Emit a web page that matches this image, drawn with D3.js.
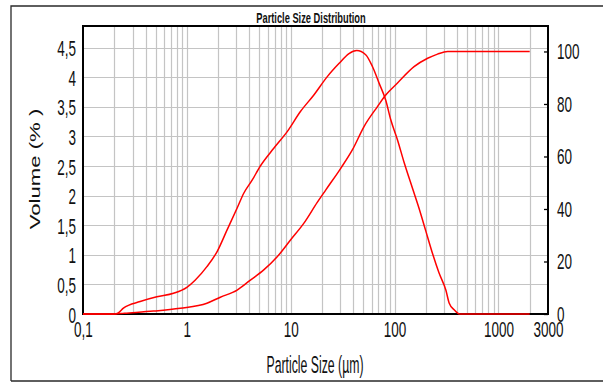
<!DOCTYPE html>
<html>
<head>
<meta charset="utf-8">
<script src="https://cdn.jsdelivr.net/npm/d3@7"></script>
<style>
    body { margin: 0; background: #fff; }
    svg { display: block; }
</style>
</head>
<body>
<div id="chart"></div>
<script>
// particle size (µm) and volume density (%)
const density_sizes = [0.1, 0.2, 0.219, 0.245, 0.355, 0.514, 0.744, 1.0, 1.2, 1.56, 1.95, 2.44, 3.05, 3.53, 4.25, 5.1, 6.87, 9.25, 12.4, 16.7, 22.5, 29.1, 36.4, 43.2, 52.7, 61.2, 70.9, 82.2, 91.9, 106.7, 124, 149, 171, 200, 234, 267, 312, 336, 375, 420, 2000];
const density_values = [0, 0, 0.02, 0.1, 0.21, 0.29, 0.35, 0.45, 0.57, 0.8, 1.05, 1.42, 1.79, 2.04, 2.26, 2.5, 2.8, 3.08, 3.42, 3.7, 4.01, 4.23, 4.4, 4.45, 4.38, 4.18, 3.9, 3.61, 3.28, 2.94, 2.55, 2.12, 1.8, 1.4, 1.0, 0.7, 0.4, 0.18, 0.07, 0, 0];

// cumulative volume (%), right axis
const cumulative_sizes = [0.1, 0.2, 0.25, 0.477, 0.864, 1.56, 2.1, 3.05, 4.09, 5.5, 7.41, 9.95, 13.4, 18, 21.7, 30.3, 39.2, 50.8, 68.4, 82.2, 106.7, 154, 208, 259, 324, 2000];
const cumulative_values = [0, 0, 0.3, 1.1, 2.2, 4.1, 6.4, 9.1, 12.9, 16.8, 21.8, 28.2, 34.6, 42.5, 47.2, 55.5, 62.5, 71.4, 79.0, 83.4, 88.0, 94.2, 97.4, 99.0, 100, 100];

const x_ticks = [0.1, 1, 10, 100, 1000, 3000];
const x_tick_labels = ['0,1', '1', '10', '100', '1000', '3000'];
const left_ticks = [0, 0.5, 1, 1.5, 2, 2.5, 3, 3.5, 4, 4.5];
const right_ticks = [0, 20, 40, 60, 80, 100];

const width = 603;
const height = 385;
const plot = { left: 83, right: 548, top: 26, bottom: 314 };
const font = '"Liberation Sans", Arial, sans-serif';
const stretch_y = 1.65;

const svg = d3.select('#chart')
    .append('svg')
    .attr('width', width)
    .attr('height', height);

svg.append('rect')
    .attr('width', width)
    .attr('height', height)
    .attr('fill', '#fff');

// outer frame
svg.append('path')
    .attr('d', `M11,381V6H${width}M11,381H${width}`)
    .attr('fill', 'none')
    .attr('stroke', '#2a2a2a')
    .attr('stroke-width', 1.3);

const x = d3.scaleLog().domain([0.1, 3000]).range([plot.left, plot.right]);
const y_left = d3.scaleLinear().domain([0, 4.865]).range([plot.bottom, plot.top]);
const y_right = d3.scaleLinear().domain([0, 109.7]).range([plot.bottom, plot.top]);

// grid
const minor = [];
for (let dec = 0.1; dec < 3000; dec *= 10) {
    for (let m = 1; m <= 9; m++) {
        const v = +(m * dec).toPrecision(3);
        if (v > 0.1 && v < 3000) minor.push(v);
    }
}

const grid = svg.append('g')
    .attr('stroke', '#c4c4c4')
    .attr('stroke-width', 1.2);

grid.selectAll('.vgrid')
    .data(minor)
    .enter()
    .append('line')
    .attr('x1', d => Math.round(x(d)) + 0.5)
    .attr('x2', d => Math.round(x(d)) + 0.5)
    .attr('y1', plot.top)
    .attr('y2', plot.bottom);

grid.selectAll('.hgrid')
    .data(left_ticks.filter(d => d > 0))
    .enter()
    .append('line')
    .attr('x1', plot.left)
    .attr('x2', plot.right)
    .attr('y1', d => Math.round(y_left(d)) + 0.5)
    .attr('y2', d => Math.round(y_left(d)) + 0.5);

// plot frame
svg.append('rect')
    .attr('x', plot.left)
    .attr('y', plot.top)
    .attr('width', plot.right - plot.left)
    .attr('height', plot.bottom - plot.top)
    .attr('fill', 'none')
    .attr('stroke', '#000')
    .attr('stroke-width', 2);

// axes
const style_ticks = (g) => {
    g.select('.domain').remove();
    g.selectAll('text')
        .style('font-family', font)
        .style('font-size', '13.5px')
        .attr('fill', '#111');
};

svg.append('g')
    .attr('transform', `translate(${plot.left},0)`)
    .call(d3.axisLeft(y_left)
        .tickValues(left_ticks)
        .tickFormat(d => String(d).replace('.', ','))
        .tickSize(0)
        .tickPadding(7))
    .call(style_ticks)
    .call(g => g.selectAll('text')
        .attr('dy', '0.36em')
        .attr('transform', `scale(1,${stretch_y})`));

svg.append('g')
    .attr('transform', `translate(${plot.right},0)`)
    .call(d3.axisRight(y_right)
        .tickValues(right_ticks)
        .tickFormat(d => d)
        .tickSize(-4)
        .tickPadding(9))
    .call(style_ticks)
    .call(g => g.selectAll('line').attr('stroke', '#000').attr('stroke-width', 1.3))
    .call(g => g.selectAll('text')
        .attr('y', -1 / stretch_y)
        .attr('dy', '0.36em')
        .attr('transform', `scale(1,${stretch_y})`));

svg.append('g')
    .attr('transform', `translate(0,${plot.bottom})`)
    .call(d3.axisBottom(x)
        .tickValues(x_ticks)
        .tickFormat((d, i) => x_tick_labels[i])
        .tickSize(0))
    .call(style_ticks)
    .call(g => g.selectAll('text')
        .attr('y', 15 / stretch_y)
        .attr('dy', '0.36em')
        .attr('transform', `scale(1,${stretch_y})`));

// curves
const density_line = d3.line()
    .x(d => x(d[0]))
    .y(d => y_left(d[1]))
    .curve(d3.curveMonotoneX);

const cumulative_line = d3.line()
    .x(d => x(d[0]))
    .y(d => y_right(d[1]))
    .curve(d3.curveMonotoneX);

svg.append('path')
    .datum(d3.zip(density_sizes, density_values))
    .attr('fill', 'none')
    .attr('stroke', '#ff0000')
    .attr('stroke-width', 1.5)
    .attr('d', density_line);

svg.append('path')
    .datum(d3.zip(cumulative_sizes, cumulative_values))
    .attr('fill', 'none')
    .attr('stroke', '#ff0000')
    .attr('stroke-width', 1.5)
    .attr('d', cumulative_line);

// titles
const stretched_text = (cx, cy, rotate, sx, sy, size, weight, label) => {
    svg.append('g')
        .attr('transform', `translate(${cx},${cy}) rotate(${rotate}) scale(${sx},${sy})`)
        .append('text')
        .attr('text-anchor', 'middle')
        .attr('dy', '0.36em')
        .style('font-family', font)
        .style('font-size', `${size}px`)
        .style('font-weight', weight)
        .attr('fill', '#111')
        .text(label);
};

stretched_text(311, 18, 0, 1, 1.5, 9.3, 'bold', 'Particle Size Distribution');
stretched_text(315, 365, 0, 0.91, 1.73, 13.5, 'normal', 'Particle Size (µm)');
stretched_text(34, 169, -90, 1.44, 1, 15.4, 'normal', 'Volume (% )');
</script>
</body>
</html>
